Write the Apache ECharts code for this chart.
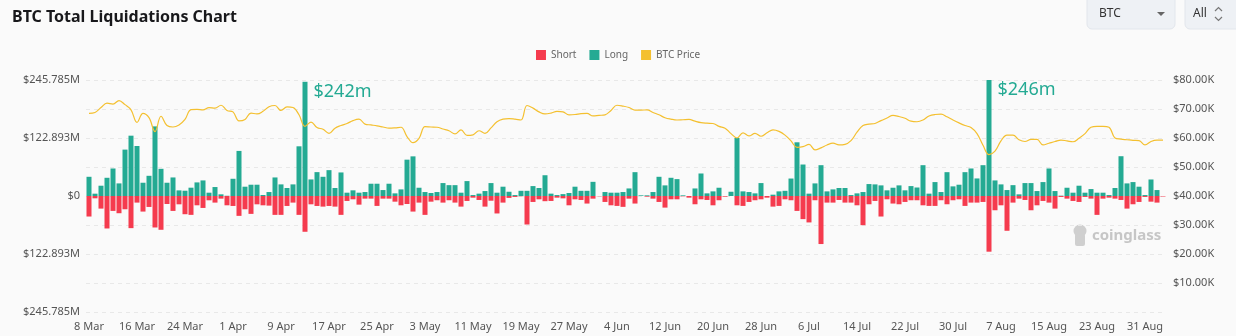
<!DOCTYPE html>
<html>
<head>
<meta charset="utf-8">
<script src="https://cdn.jsdelivr.net/npm/echarts@6/dist/echarts.min.js"></script>
<style>
html,body{margin:0;padding:0;background:#fafafa;}
#chart{width:1236px;height:336px;}
</style>
</head>
<body>
<div id="chart"></div>
<script>
// ---- data ----
const startDate = [2024, 2, 8]; // 8 Mar 2024 (month 0-based)
const dayCount = 180;
const monthNames = ['Jan','Feb','Mar','Apr','May','Jun','Jul','Aug','Sep','Oct','Nov','Dec'];
const categories = [];
for (let i = 0; i < dayCount; i++) {
  const d = new Date(Date.UTC(startDate[0], startDate[1], startDate[2] + i));
  categories.push(d.getUTCDate() + ' ' + monthNames[d.getUTCMonth()]);
}

// Long liquidations, $M
const longVals = [
  40.7, 4.9, 21.8, 38.6, 58.3, 26.7, 98.3, 127.8, 106, 28.1, 42.8, 147.5, 57.6, 28.1, 39.3, 11.9, 11.2, 17.6, 28.8, 33,
  7, 19, 3.5, 0.5, 36.5, 95.5, 19.7, 23.9, 23.9, 2.1, 8.4, 39.3, 24.6, 16.9, 24.6, 105.3, 242, 35.1, 50.6, 40.7,
  54.8, 16.9, 49.9, 7, 12, 7,
  8.4, 26, 26, 12.6, 26, 5.6, 14, 77, 84, 17.5, 8.4, 6.3, 8.4, 27.4, 23, 23, 7, 31.6, 2, 5,
  10.5, 27.4, 7, 19.7, 9, 2, 11, 11, 21, 17, 44, 5, 2, 4, 6.3, 19.7, 11, 11, 30, 0,
  8.4, 7, 7, 8.4, 16, 50.5,
  1.4, 1.4, 8.4, 40.7, 22.5, 38.6, 35.8, 1.4, 0, 16, 47.7, 5.6, 9.8, 17.5, 0, 9, 123, 9.8, 8.4, 5.6,
  27.4, 0, 2.8, 9.8, 11, 37, 113.8, 66.7, 5, 26.7, 65.3, 9.8, 14, 17, 17, 2, 5.6, 8.4, 25.3, 24.6,
  22.5, 12, 17.5, 22.5, 12, 21, 18,
  65.3, 5, 29.5, 8.4, 50.5, 20.4, 23.9, 50.5, 58.3, 37.2, 65.3, 245.785, 33, 24.6, 12.6, 23, 3.5, 27.4, 27.4, 10.5,
  29.5, 58.3, 10.5, 0.7, 17.5, 7, 21.8, 7, 14.7, 7, 7, 2, 16.9, 84.3, 26.7, 29.5, 19.7, 2, 35, 12.6, 0
];

// Short liquidations, $M (drawn below zero)
const shortVals = [
  43.5, 4.9, 26.7, 68.8, 31.6, 36.5, 28.1, 68.1, 14, 33, 23.2, 66.7, 71.6, 16.9, 31.6, 17.6, 38.6, 40, 19.7, 25.3,
  9.1, 14, 5.6, 19.7, 21.1, 42.1, 28.1, 37.9, 17.6, 19.7, 20.4, 40, 40, 21.1, 14, 40, 75.8, 17.6, 21.1, 22.5,
  21.1, 22.5, 40, 10.5, 7, 18.3,
  5.6, 5.6, 21, 5.6, 5.6, 12, 19.7, 17, 33, 14, 40, 12, 9, 14, 9, 14, 22.5, 10.5, 3.5, 8.4,
  22.5, 10, 37, 14, 4, 2, 0.5, 60.4, 12.6, 7, 11, 10.5, 3.5, 5, 19.7, 7, 8.4, 16, 5.6, 0.5,
  12.6, 19.7, 21, 23, 5.6, 16,
  0, 1.4, 5.6, 12.6, 24.6, 7, 7, 0.7, 3.5, 17.5, 7, 8.4, 19.7, 9, 1.4, 0, 19.7, 21, 12.6, 9,
  7, 3.5, 22.5, 21, 7, 9, 31.6, 49, 56, 9, 101.8, 14, 14, 8.4, 14, 14, 19.7, 61.8, 17.5, 10.5,
  43.5, 7, 16, 17.5, 12.6, 9, 9,
  19.7, 21, 21, 9, 17.5, 9, 7, 21, 14, 14, 12.6, 118, 30.2, 19.7, 73.7, 14, 5.6, 8.4, 30.2, 19.7,
  10.5, 14, 26.7, 2, 5.6, 10.5, 12.6, 2, 5.6, 40, 5.6, 3.5, 5.6, 8.4, 26.7, 17.5, 12.6, 2, 12, 14, 1
];

// BTC price, $K
const priceVals = [
  68.5, 68.8, 70.5, 72.0, 71.7, 72.9, 71.5, 69.7, 65.4, 68.5, 67.0, 62.2, 67.5, 64.3, 63.8, 64.5, 66.4, 69.8, 69.9, 69.7,
  70.5, 70.3, 71.3, 69.5, 69.0, 65.9, 66.4, 68.6, 68.3, 69.2, 70.8, 71.2, 69.5, 70.7, 70.5, 68.0, 64.0, 65.5, 63.6, 63.0,
  61.6, 63.4, 64.3, 65.0, 66.0, 66.5,
  64.8, 64.5, 64.2, 63.8, 63.4, 63.5, 63.7, 60.5, 58.4, 59.9, 63.9, 63.8, 63.7, 63.1, 62.5, 61.4, 62.8, 60.9, 61.1, 62.5,
  61.6, 63.5, 65.6, 66.5, 66.7, 66.5, 66.2, 71.2, 70.3, 69.0, 68.3, 68.6, 69.2, 69.0, 68.0, 68.1, 68.4, 68.5, 67.6, 67.8,
  68.0, 69.5, 71.3, 71.0, 70.5, 69.6,
  69.6, 69.7, 68.8, 68.0, 67.0, 66.5, 66.2, 66.3, 66.4, 65.8, 65.3, 65.1, 65.0, 64.0, 63.4, 61.5, 60.0, 61.8, 60.7, 61.6,
  60.6, 61.8, 62.8, 62.3, 61.0, 59.0, 56.8, 57.0, 57.8, 55.9, 56.6, 57.6, 58.2, 57.6, 57.8, 59.1, 62.0, 64.3, 64.8, 65.0,
  66.0, 66.9, 67.8, 67.4, 66.8, 65.8, 65.6,
  66.2, 67.6, 68.1, 68.2, 67.3, 66.2, 65.2, 64.3, 63.6, 61.5, 57.5, 54.3, 55.5, 59.0, 61.0, 61.0, 59.4, 58.8, 59.5, 59.5,
  57.6, 58.2, 58.8, 59.3, 59.0, 58.7, 59.9, 61.5, 63.7, 64.0, 64.0, 63.7, 60.0, 59.6, 59.4, 59.2, 59.1, 57.6, 58.8, 59.3, 59.3
];

const leftTickLabels = ['$245.785M', '$122.893M', '$0', '$122.893M', '$245.785M'];
const leftAxisMax = [245.785];
const annotatedDays = [36, 150];

// ---- chart ----
const RED = '#f53b4e', TEAL = '#24aa93', GOLD = '#f4c030';
const FONT = 'Noto Sans';
const chart = echarts.init(document.getElementById('chart'), null, {renderer: 'canvas'});

const longData = longVals.map((v, i) => annotatedDays.includes(i) ? {
  value: v,
  label: {
    show: true, position: [11, 1], align: 'left', verticalAlign: 'top',
    formatter: p => '$' + Math.round(p.value) + 'm',
    color: TEAL, fontSize: 18, fontFamily: FONT
  }
} : v);

chart.setOption({
  animation: false,
  backgroundColor: '#fafafa',
  textStyle: {fontFamily: FONT},
  title: {
    text: 'BTC Total Liquidations Chart', left: 7, top: 4,
    textStyle: {fontSize: 16, fontWeight: 'bold', color: '#18181b', fontFamily: FONT}
  },
  legend: {
    top: 45, left: 'center', itemWidth: 10, itemHeight: 10, itemGap: 13, icon: 'rect',
    textStyle: {color: '#666', fontSize: 10, fontFamily: FONT},
    data: ['Short', 'Long', 'BTC Price']
  },
  grid: {left: 86, right: 70, top: 80, bottom: 24},
  xAxis: {
    type: 'category', data: categories, boundaryGap: true,
    axisLine: {show: false}, axisTick: {show: false},
    axisLabel: {interval: 7, color: '#555', fontSize: 11, margin: 9}
  },
  yAxis: [{
    type: 'value', position: 'left', min: -leftAxisMax[0], max: leftAxisMax[0], interval: leftAxisMax[0] / 2,
    splitLine: {show: false}, axisLine: {show: false}, axisTick: {show: false},
    axisLabel: {color: '#555', fontSize: 11, margin: 6, formatter: (v, i) => leftTickLabels[i]}
  }, {
    type: 'value', position: 'right', min: 0, max: 80000, interval: 10000,
    splitLine: {show: true, lineStyle: {type: [4, 4], color: '#e8e8e8'}},
    axisLine: {show: false}, axisTick: {show: false},
    axisLabel: {color: '#555', fontSize: 11, margin: 7,
      formatter: v => v === 0 ? '' : '$' + (v / 1000).toFixed(2) + 'K'}
  }],
  series: [{
    name: 'Short', type: 'bar', stack: 'liq', yAxisIndex: 0, barWidth: 5,
    itemStyle: {color: RED}, data: shortVals.map(v => -v)
  }, {
    name: 'Long', type: 'bar', stack: 'liq', yAxisIndex: 0, barWidth: 5,
    itemStyle: {color: TEAL}, data: longData
  }, {
    name: 'BTC Price', type: 'line', yAxisIndex: 1, smooth: 0.4, showSymbol: false,
    itemStyle: {color: GOLD}, lineStyle: {color: GOLD, width: 1.2},
    data: priceVals.map(v => v * 1000), z: 5
  }],
  graphic: [
    {type: 'rect', shape: {x: 1087, y: -5, width: 88, height: 34, r: 5},
     style: {fill: '#eef1f5', stroke: '#e2e6ec', lineWidth: 1}},
    {type: 'text', x: 1099, y: 14, style: {text: 'BTC', fontSize: 12, fill: '#333', verticalAlign: 'middle', fontFamily: FONT}},
    {type: 'polygon', shape: {points: [[1157, 12], [1165, 12], [1161, 16]]}, style: {fill: '#666'}},
    {type: 'rect', shape: {x: 1185, y: -5, width: 60, height: 34, r: 5},
     style: {fill: '#eef1f5', stroke: '#e2e6ec', lineWidth: 1}},
    {type: 'text', x: 1193, y: 14, style: {text: 'All', fontSize: 12, fill: '#333', verticalAlign: 'middle', fontFamily: FONT}},
    {type: 'polyline', shape: {points: [[1215, 11], [1218.5, 7.5], [1222, 11]]}, style: {stroke: '#777', lineWidth: 1.2, fill: null}},
    {type: 'polyline', shape: {points: [[1215, 17], [1218.5, 20.5], [1222, 17]]}, style: {stroke: '#777', lineWidth: 1.2, fill: null}},
    // watermark
    {type: 'circle', shape: {cx: 1080, cy: 231, r: 6.5}, style: {fill: '#cfcfcf'}},
    {type: 'rect', shape: {x: 1075, y: 234, width: 10, height: 12, r: 2}, style: {fill: '#cfcfcf'}},
    {type: 'text', x: 1092, y: 236, style: {text: 'coinglass', fontSize: 15, fontWeight: 'bold', fill: '#c6c6c6', verticalAlign: 'middle', fontFamily: FONT}}
  ]
});
</script>
</body>
</html>
